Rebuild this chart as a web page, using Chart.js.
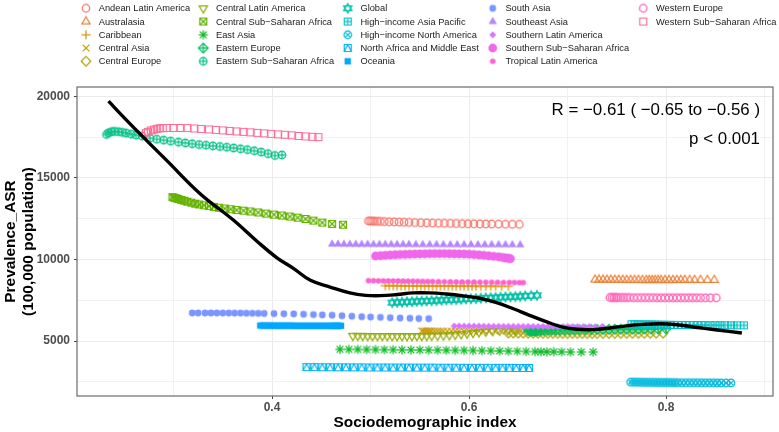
<!DOCTYPE html>
<html>
<head>
<meta charset="utf-8">
<script src="https://cdn.jsdelivr.net/npm/chart.js@4.4.0/dist/chart.umd.min.js"></script>
<style>
  html, body { margin: 0; padding: 0; background: #fff; }
  #chart { display: block; }
</style>
</head>
<body>
<canvas id="chart" width="779" height="432"></canvas>
<script>
// regions, in legend order
const regionNames = [
  "Andean Latin America", "Australasia", "Caribbean", "Central Asia", "Central Europe",
  "Central Latin America", "Central Sub\u2212Saharan Africa", "East Asia", "Eastern Europe", "Eastern Sub\u2212Saharan Africa",
  "Global", "High\u2212income Asia Pacific", "High\u2212income North America", "North Africa and Middle East", "Oceania",
  "South Asia", "Southeast Asia", "Southern Latin America", "Southern Sub\u2212Saharan Africa", "Tropical Latin America",
  "Western Europe", "Western Sub\u2212Saharan Africa"
];

// SDI (x) and age-standardised prevalence (y), 1990-2019
const sdiAndean = [0.498,0.500,0.502,0.504,0.507,0.510,0.514,0.519,0.524,0.529,0.534,0.539,0.545,0.551,0.557,0.563,0.569,0.575,0.581,0.587,0.593,0.599,0.605,0.611,0.617,0.623,0.630,0.637,0.644,0.651];
const prevAndean = [12360,12355,12350,12345,12340,12330,12320,12310,12300,12290,12280,12270,12260,12250,12240,12230,12220,12215,12210,12200,12195,12190,12185,12180,12175,12170,12165,12160,12155,12150];

const sdiAustralasia = [0.728,0.732,0.736,0.740,0.744,0.748,0.752,0.756,0.760,0.764,0.768,0.772,0.776,0.780,0.783,0.786,0.789,0.792,0.795,0.799,0.803,0.807,0.811,0.815,0.819,0.824,0.829,0.835,0.842,0.849];
const prevAustralasia = [8760,8760,8755,8755,8750,8750,8745,8745,8740,8740,8740,8740,8735,8735,8735,8735,8735,8735,8735,8735,8735,8735,8740,8740,8740,8740,8740,8740,8740,8740];

const sdiCaribbean = [0.515,0.519,0.523,0.527,0.531,0.535,0.539,0.543,0.547,0.551,0.555,0.559,0.563,0.567,0.571,0.575,0.579,0.583,0.587,0.591,0.595,0.599,0.603,0.607,0.612,0.617,0.622,0.627,0.633,0.640];
const prevCaribbean = [8390,8390,8385,8385,8380,8380,8380,8375,8375,8375,8370,8370,8370,8370,8370,8370,8370,8370,8365,8365,8365,8365,8365,8360,8360,8360,8360,8360,8355,8355];

const sdiCentralAsia = [0.552,0.554,0.556,0.558,0.560,0.562,0.565,0.568,0.571,0.574,0.578,0.582,0.586,0.590,0.595,0.600,0.605,0.610,0.615,0.620,0.626,0.632,0.638,0.644,0.650,0.657,0.664,0.671,0.678,0.686];
const prevCentralAsia = [5620,5620,5615,5615,5610,5610,5605,5605,5600,5600,5600,5600,5600,5600,5605,5605,5610,5610,5615,5620,5625,5630,5635,5640,5645,5650,5655,5660,5660,5665];

const sdiCentralEurope = [0.640,0.645,0.650,0.655,0.660,0.665,0.670,0.675,0.680,0.685,0.690,0.695,0.700,0.705,0.710,0.715,0.720,0.725,0.730,0.736,0.742,0.748,0.754,0.760,0.766,0.772,0.778,0.784,0.790,0.797];
const prevCentralEurope = [5490,5490,5485,5485,5480,5480,5480,5475,5475,5475,5475,5470,5470,5470,5470,5465,5465,5465,5465,5470,5470,5470,5475,5475,5475,5480,5480,5480,5485,5485];

const sdiCentralLatAm = [0.482,0.487,0.492,0.497,0.502,0.507,0.512,0.517,0.522,0.527,0.532,0.537,0.542,0.547,0.552,0.557,0.562,0.568,0.574,0.580,0.586,0.592,0.598,0.604,0.610,0.617,0.624,0.631,0.639,0.647];
const prevCentralLatAm = [5320,5320,5315,5315,5310,5310,5310,5305,5305,5305,5305,5305,5305,5310,5310,5315,5320,5330,5345,5360,5390,5420,5460,5500,5540,5580,5610,5630,5645,5655];

const sdiCentralSSA = [0.299,0.301,0.303,0.305,0.308,0.311,0.314,0.318,0.322,0.326,0.331,0.336,0.341,0.346,0.352,0.358,0.364,0.371,0.378,0.386,0.394,0.402,0.410,0.418,0.426,0.434,0.442,0.451,0.461,0.472];
const prevCentralSSA = [13820,13780,13740,13700,13650,13600,13540,13480,13420,13370,13320,13270,13220,13170,13120,13080,13030,12990,12940,12880,12810,12750,12690,12630,12560,12480,12380,12260,12180,12130];

const sdiEastAsia = [0.469,0.478,0.487,0.496,0.505,0.514,0.523,0.532,0.541,0.550,0.559,0.568,0.577,0.586,0.595,0.604,0.613,0.622,0.631,0.640,0.649,0.658,0.667,0.673,0.679,0.686,0.694,0.703,0.714,0.726];
const prevEastAsia = [4490,4490,4485,4480,4475,4470,4465,4460,4455,4450,4445,4440,4435,4430,4425,4420,4410,4400,4390,4380,4370,4360,4350,4345,4340,4340,4335,4330,4330,4330];

const sdiEasternEurope = [0.660,0.662,0.664,0.666,0.668,0.670,0.673,0.676,0.680,0.684,0.688,0.692,0.697,0.702,0.707,0.712,0.718,0.724,0.730,0.736,0.742,0.748,0.754,0.760,0.766,0.772,0.778,0.785,0.792,0.800];
const prevEasternEurope = [5640,5630,5620,5620,5620,5630,5640,5650,5660,5665,5670,5675,5680,5685,5690,5695,5700,5705,5710,5715,5720,5725,5730,5730,5735,5735,5740,5740,5740,5745];

const sdiEasternSSA = [0.232,0.234,0.237,0.240,0.244,0.248,0.252,0.257,0.262,0.268,0.276,0.283,0.290,0.297,0.305,0.312,0.319,0.326,0.333,0.340,0.347,0.354,0.361,0.368,0.375,0.382,0.389,0.396,0.403,0.410];
const prevEasternSSA = [17660,17760,17830,17850,17830,17790,17740,17680,17620,17560,17430,17370,17310,17250,17190,17140,17090,17040,17000,16960,16920,16880,16830,16780,16730,16660,16580,16480,16370,16400];

const sdiGlobal = [0.522,0.527,0.532,0.537,0.542,0.547,0.552,0.557,0.562,0.567,0.572,0.577,0.582,0.587,0.592,0.597,0.602,0.607,0.612,0.617,0.622,0.627,0.632,0.637,0.642,0.647,0.652,0.657,0.663,0.669];
const prevGlobal = [7350,7370,7380,7400,7410,7430,7440,7450,7470,7480,7500,7520,7530,7540,7560,7580,7590,7600,7620,7640,7650,7660,7680,7700,7710,7720,7740,7760,7780,7800];

const sdiHiAsiaPac = [0.765,0.768,0.771,0.774,0.777,0.780,0.783,0.786,0.789,0.792,0.795,0.798,0.801,0.804,0.808,0.812,0.816,0.820,0.824,0.828,0.832,0.836,0.840,0.845,0.850,0.855,0.860,0.866,0.872,0.879];
const prevHiAsiaPac = [6030,6030,6025,6020,6020,6015,6010,6010,6005,6000,6000,5995,5990,5990,5990,5985,5985,5980,5980,5980,5975,5975,5975,5970,5970,5970,5965,5965,5960,5960];

const sdiHiNorthAm = [0.764,0.767,0.770,0.773,0.776,0.779,0.782,0.785,0.788,0.791,0.794,0.797,0.800,0.803,0.806,0.809,0.812,0.816,0.820,0.824,0.828,0.832,0.836,0.840,0.844,0.848,0.852,0.856,0.861,0.866];
const prevHiNorthAm = [2480,2475,2470,2470,2465,2465,2460,2460,2455,2455,2455,2450,2450,2450,2445,2445,2445,2440,2440,2440,2440,2440,2435,2435,2435,2435,2430,2430,2430,2430];

const sdiNAME = [0.435,0.443,0.451,0.459,0.467,0.475,0.483,0.491,0.499,0.507,0.515,0.523,0.531,0.539,0.547,0.555,0.563,0.571,0.579,0.587,0.595,0.603,0.611,0.619,0.627,0.634,0.641,0.648,0.655,0.661];
const prevNAME = [3400,3400,3395,3395,3390,3390,3385,3385,3380,3380,3380,3375,3375,3375,3370,3370,3370,3365,3365,3365,3360,3360,3360,3360,3355,3355,3355,3350,3350,3350];

const sdiOceania = [0.388,0.391,0.394,0.397,0.400,0.403,0.406,0.409,0.412,0.415,0.418,0.421,0.424,0.427,0.430,0.433,0.436,0.439,0.442,0.445,0.448,0.451,0.454,0.457,0.460,0.462,0.464,0.466,0.468,0.470];
const prevOceania = [5950,5950,5945,5945,5945,5940,5940,5940,5940,5940,5940,5940,5935,5935,5935,5935,5935,5935,5935,5935,5935,5935,5935,5935,5935,5935,5935,5935,5935,5935];

const sdiSouthAsia = [0.319,0.325,0.332,0.338,0.344,0.350,0.356,0.362,0.368,0.374,0.380,0.386,0.392,0.402,0.412,0.422,0.432,0.442,0.451,0.461,0.471,0.481,0.491,0.500,0.510,0.520,0.530,0.540,0.549,0.559];
const prevSouthAsia = [6720,6720,6720,6720,6720,6715,6715,6710,6710,6705,6700,6695,6690,6680,6670,6660,6640,6620,6600,6580,6550,6520,6490,6470,6450,6430,6410,6395,6380,6370];

const sdiSoutheastAsia = [0.461,0.467,0.473,0.479,0.485,0.491,0.497,0.503,0.509,0.515,0.521,0.527,0.533,0.539,0.546,0.553,0.560,0.567,0.574,0.581,0.588,0.595,0.602,0.609,0.616,0.623,0.630,0.637,0.644,0.652];
const prevSoutheastAsia = [10940,10940,10935,10935,10930,10930,10930,10925,10925,10925,10920,10920,10920,10920,10915,10915,10915,10915,10910,10910,10910,10910,10910,10905,10905,10905,10905,10905,10905,10900];

const sdiSouthernLatAm = [0.585,0.590,0.595,0.600,0.605,0.610,0.615,0.620,0.625,0.630,0.635,0.640,0.645,0.650,0.655,0.660,0.665,0.670,0.675,0.680,0.685,0.690,0.695,0.700,0.705,0.710,0.716,0.722,0.728,0.735];
const prevSouthernLatAm = [5920,5920,5915,5915,5910,5910,5910,5905,5905,5905,5900,5900,5900,5895,5895,5895,5890,5890,5890,5890,5885,5885,5885,5885,5880,5880,5880,5880,5875,5875];

const sdiSouthernSSA = [0.505,0.510,0.515,0.520,0.525,0.530,0.535,0.540,0.545,0.550,0.555,0.560,0.565,0.570,0.575,0.580,0.585,0.590,0.595,0.600,0.605,0.610,0.615,0.620,0.625,0.630,0.634,0.637,0.640,0.642];
const prevSouthernSSA = [10210,10230,10250,10270,10290,10300,10310,10320,10330,10340,10345,10350,10355,10355,10355,10350,10345,10340,10330,10320,10300,10280,10250,10220,10190,10160,10120,10090,10070,10050];

const sdiTropicalLatAm = [0.498,0.503,0.508,0.513,0.518,0.523,0.528,0.533,0.538,0.543,0.548,0.553,0.558,0.563,0.569,0.575,0.581,0.587,0.593,0.599,0.605,0.611,0.617,0.623,0.629,0.635,0.641,0.646,0.651,0.655];
const prevTropicalLatAm = [8700,8695,8690,8690,8685,8680,8680,8675,8670,8665,8660,8655,8650,8645,8640,8635,8630,8625,8620,8615,8610,8605,8600,8600,8595,8590,8590,8585,8580,8580];

const sdiWesternEurope = [0.743,0.745,0.747,0.749,0.751,0.754,0.757,0.760,0.763,0.767,0.771,0.775,0.779,0.783,0.787,0.791,0.795,0.799,0.803,0.807,0.811,0.815,0.819,0.823,0.827,0.831,0.835,0.840,0.845,0.851];
const prevWesternEurope = [7670,7670,7665,7665,7665,7660,7660,7660,7660,7655,7655,7655,7655,7655,7655,7650,7650,7650,7650,7650,7650,7650,7650,7650,7650,7650,7645,7645,7645,7645];

const sdiWesternSSA = [0.272,0.274,0.277,0.280,0.283,0.286,0.289,0.293,0.300,0.307,0.314,0.321,0.328,0.336,0.343,0.350,0.357,0.364,0.371,0.378,0.385,0.392,0.399,0.406,0.413,0.420,0.427,0.434,0.441,0.447];
const prevWesternSSA = [17740,17820,17900,17960,18010,18040,18050,18060,18060,18060,18050,18030,18000,17970,17940,17910,17880,17850,17820,17790,17760,17730,17700,17670,17640,17610,17570,17540,17520,17500];

// smoothed fit (loess) drawn over the points
const smoothSdi = [0.234,0.250,0.270,0.293,0.327,0.361,0.385,0.405,0.422,0.439,0.459,0.479,0.495,0.510,0.527,0.543,0.560,0.577,0.594,0.611,0.628,0.645,0.662,0.679,0.695,0.710,0.726,0.743,0.760,0.777,0.794,0.811,0.828,0.850,0.877];
const smoothPrev = [19700,18680,17450,16070,14030,12400,11100,10100,9440,8720,8310,7950,7800,7780,7850,7950,7950,7880,7770,7620,7350,6980,6560,6170,5850,5720,5700,5800,5930,6020,6060,6000,5860,5690,5490];

const xTicks = [0.3, 0.4, 0.5, 0.6, 0.7, 0.8, 0.9];
const yTicks = [2500, 5000, 7500, 10000, 12500, 15000, 17500, 20000];
const corrLabel = "R = \u22120.61 ( \u22120.65 to \u22120.56 )";
const pLabel = "p < 0.001";

const sdiSeries = [sdiAndean, sdiAustralasia, sdiCaribbean, sdiCentralAsia, sdiCentralEurope,
  sdiCentralLatAm, sdiCentralSSA, sdiEastAsia, sdiEasternEurope, sdiEasternSSA,
  sdiGlobal, sdiHiAsiaPac, sdiHiNorthAm, sdiNAME, sdiOceania,
  sdiSouthAsia, sdiSoutheastAsia, sdiSouthernLatAm, sdiSouthernSSA, sdiTropicalLatAm,
  sdiWesternEurope, sdiWesternSSA];
const prevSeries = [prevAndean, prevAustralasia, prevCaribbean, prevCentralAsia, prevCentralEurope,
  prevCentralLatAm, prevCentralSSA, prevEastAsia, prevEasternEurope, prevEasternSSA,
  prevGlobal, prevHiAsiaPac, prevHiNorthAm, prevNAME, prevOceania,
  prevSouthAsia, prevSoutheastAsia, prevSouthernLatAm, prevSouthernSSA, prevTropicalLatAm,
  prevWesternEurope, prevWesternSSA];

const FONT = '"Liberation Sans", Arial, sans-serif';
Chart.defaults.font.family = FONT;

// ggplot-like hue palette (hcl, c = 100, l = 65)
const hcl = (h, c, l) => {
  const hr = h * Math.PI / 180;
  const U = c * Math.cos(hr), V = c * Math.sin(hr);
  const Y = 100 * Math.pow((l + 16) / 116, 3);
  const un = 4 * 95.047 / (95.047 + 1500 + 3 * 108.883);
  const vn = 9 * 100 / (95.047 + 1500 + 3 * 108.883);
  const u = U / (13 * l) + un, v = V / (13 * l) + vn;
  const X = Y * 9 * u / (4 * v);
  const Z = Y * (12 - 3 * u - 20 * v) / (4 * v);
  const x = X / 100, y = Y / 100, z = Z / 100;
  const lin = [
    3.240479 * x - 1.537150 * y - 0.498535 * z,
    -0.969256 * x + 1.875992 * y + 0.041556 * z,
    0.055648 * x - 0.204043 * y + 1.057311 * z
  ];
  const gam = t => t <= 0.0031308 ? 12.92 * t : 1.055 * Math.pow(t, 1 / 2.4) - 0.055;
  return '#' + lin.map(t => {
    const k = Math.round(Math.min(1, Math.max(0, gam(t))) * 255);
    return k.toString(16).padStart(2, '0');
  }).join('');
};
const colors = regionNames.map((_, i) => hcl(15 + 360 * i / regionNames.length, 100, 65));

// ggplot shapes 1..22 drawn on small canvases
const makeMarker = (shape, color) => {
  const cv = document.createElement('canvas');
  cv.width = 18; cv.height = 18;
  const g = cv.getContext('2d');
  g.translate(9, 9);
  g.strokeStyle = color; g.fillStyle = color; g.lineWidth = 1.2;
  const rad = d => d * Math.PI / 180;
  const circle = r => { g.beginPath(); g.arc(0, 0, r, 0, Math.PI * 2); };
  const poly = pts => { g.beginPath(); pts.forEach(([x, y], i) => i ? g.lineTo(x, y) : g.moveTo(x, y)); g.closePath(); };
  const seg = (x1, y1, x2, y2) => { g.beginPath(); g.moveTo(x1, y1); g.lineTo(x2, y2); g.stroke(); };
  const tri = (r, a0) => poly([0, 120, 240].map(d => [r * Math.cos(rad(a0 + d)), r * Math.sin(rad(a0 + d))]));
  const sq = h => { g.beginPath(); g.rect(-h, -h, 2 * h, 2 * h); };
  const dia = h => poly([[0, -h], [h, 0], [0, h], [-h, 0]]);
  switch (shape) {
    case 1: case 21: circle(3.8); g.stroke(); break;
    case 2: tri(4.8, -90); g.stroke(); break;
    case 3: seg(-4.6, 0, 4.6, 0); seg(0, -4.6, 0, 4.6); break;
    case 4: seg(-3.4, -3.4, 3.4, 3.4); seg(-3.4, 3.4, 3.4, -3.4); break;
    case 5: dia(4.8); g.stroke(); break;
    case 6: tri(4.8, 90); g.stroke(); break;
    case 7: sq(3.5); g.stroke(); seg(-3.5, -3.5, 3.5, 3.5); seg(-3.5, 3.5, 3.5, -3.5); break;
    case 8: seg(-4.6, 0, 4.6, 0); seg(0, -4.6, 0, 4.6); seg(-3.4, -3.4, 3.4, 3.4); seg(-3.4, 3.4, 3.4, -3.4); break;
    case 9: dia(4.8); g.stroke(); seg(-4.8, 0, 4.8, 0); seg(0, -4.8, 0, 4.8); break;
    case 10: circle(3.8); g.stroke(); seg(-3.8, 0, 3.8, 0); seg(0, -3.8, 0, 3.8); break;
    case 11: tri(4.8, -90); g.stroke(); tri(4.8, 90); g.stroke(); break;
    case 12: sq(3.5); g.stroke(); seg(-3.5, 0, 3.5, 0); seg(0, -3.5, 0, 3.5); break;
    case 13: circle(3.8); g.stroke(); seg(-2.7, -2.7, 2.7, 2.7); seg(-2.7, 2.7, 2.7, -2.7); break;
    case 14: sq(3.5); g.stroke(); poly([[-3.5, 3.5], [0, -3.5], [3.5, 3.5]]); g.stroke(); break;
    case 15: sq(3.2); g.fill(); break;
    case 16: circle(3.4); g.fill(); break;
    case 17: tri(4.8, -90); g.fill(); break;
    case 18: dia(3.5); g.fill(); break;
    case 19: circle(4.4); g.fill(); break;
    case 20: circle(2.8); g.fill(); break;
    case 22: sq(3.5); g.stroke(); break;
  }
  return cv;
};
const markers = regionNames.map((_, i) => makeMarker(i + 1, colors[i]));

const datasets = regionNames.map((name, i) => ({
  label: name,
  data: sdiSeries[i].map((x, j) => ({ x: x, y: prevSeries[i][j] })),
  pointStyle: markers[i],
  pointRadius: 4,
  pointHoverRadius: 4,
  showLine: false,
  order: 100 - i,
}));
datasets.push({
  label: "loess",
  data: smoothSdi.map((x, j) => ({ x: x, y: smoothPrev[j] })),
  showLine: true,
  borderColor: "#000",
  borderWidth: 3.4,
  pointRadius: 0,
  tension: 0.4,
  order: 0,
});

const isMajorX = v => Math.round(v * 10) % 2 === 0;
const isMajorY = v => v % 5000 === 0;

const panelAndText = {
  id: "panelAndText",
  afterDatasetsDraw(chart) {
    const { ctx, chartArea: a } = chart;
    ctx.save();
    ctx.strokeStyle = "#6b6b6b";
    ctx.lineWidth = 1.2;
    ctx.strokeRect(a.left, a.top, a.right - a.left, a.bottom - a.top);

    ctx.fillStyle = "#000";
    ctx.font = `16.9px ${FONT}`;
    ctx.textAlign = "right";
    ctx.textBaseline = "alphabetic";
    ctx.fillText(corrLabel, a.right - 13, 115);
    ctx.fillText(pLabel, a.right - 13, 143.5);
    ctx.restore();
  },
  afterDraw(chart) {
    // legend, 5 columns filled top to bottom
    const { ctx } = chart;
    const colX = [86, 203.3, 347.7, 492.7, 643.3];
    ctx.save();
    ctx.font = `9.3px ${FONT}`;
    ctx.fillStyle = "#1a1a1a";
    ctx.textAlign = "left";
    ctx.textBaseline = "middle";
    regionNames.forEach((name, i) => {
      const cx = colX[Math.floor(i / 5)];
      const cy = 8.3 + (i % 5) * 13.25;
      ctx.drawImage(markers[i], cx - 9, cy - 9);
      ctx.fillText(name, cx + 12.7, cy + 0.5);
    });
    ctx.restore();
  },
};

new Chart(document.getElementById("chart"), {
  type: "scatter",
  data: { datasets: datasets },
  options: {
    responsive: false,
    animation: false,
    layout: { padding: { top: 87, right: 6, left: 0, bottom: 0 } },
    plugins: {
      legend: { display: false },
      tooltip: { enabled: false },
    },
    scales: {
      x: {
        type: "linear",
        min: 0.202,
        max: 0.9086,
        afterBuildTicks: (s) => { s.ticks = xTicks.map((v) => ({ value: v })); },
        afterFit: (s) => { s.height = 36; },
        border: { display: false },
        grid: {
          color: (c) => (isMajorX(c.tick.value) ? "#EBEBEB" : "#F2F2F2"),
          lineWidth: 1,
          tickColor: (c) => (isMajorX(c.tick.value) ? "#444" : "rgba(0,0,0,0)"),
          tickLength: 3,
        },
        ticks: {
          autoSkip: false,
          maxRotation: 0,
          padding: 1,
          color: "#4D4D4D",
          font: { size: 12, weight: "bold" },
          callback: (v) => (isMajorX(v) ? v.toFixed(1) : ""),
        },
        title: {
          display: true,
          text: "Sociodemographic index",
          color: "#000",
          font: { size: 15.4, weight: "bold" },
          padding: { top: 0, bottom: 0 },
        },
      },
      y: {
        type: "linear",
        min: 1630,
        max: 20570,
        afterBuildTicks: (s) => { s.ticks = yTicks.map((v) => ({ value: v })); },
        afterFit: (s) => { s.width = 77; },
        border: { display: false },
        grid: {
          color: (c) => (isMajorY(c.tick.value) ? "#EBEBEB" : "#F2F2F2"),
          lineWidth: 1,
          tickColor: (c) => (isMajorY(c.tick.value) ? "#444" : "rgba(0,0,0,0)"),
          tickLength: 3,
        },
        ticks: {
          autoSkip: false,
          padding: 4,
          color: "#4D4D4D",
          font: { size: 12, weight: "bold" },
          callback: (v) => (isMajorY(v) ? String(v) : ""),
        },
        title: {
          display: true,
          text: ["Prevalence_ASR", "(100,000 population)"],
          color: "#000",
          font: { size: 15.4, weight: "bold" },
          padding: { top: 1.5, bottom: 0 },
        },
      },
    },
  },
  plugins: [panelAndText],
});
</script>
</body>
</html>
